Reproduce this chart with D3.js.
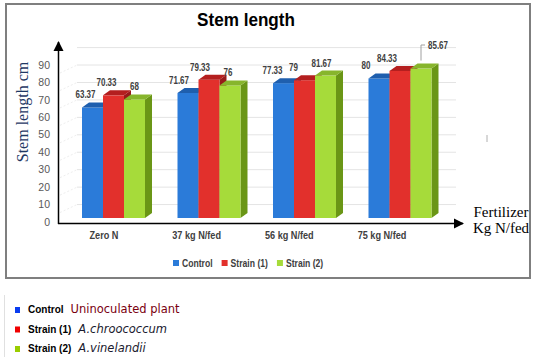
<!doctype html>
<html>
  <head>
    <script src="https://d3js.org/d3.v7.min.js"></script>
    <style>
      body { margin: 0; background: white; }
      text { font-family: "Liberation Sans", Arial, sans-serif; }
      .serif { font-family: "Liberation Serif", "Times New Roman", serif; }
      .wide { font-family: "DejaVu Sans", sans-serif; }
    </style>
  </head>
  <body>
    <div id="chart"></div>
    <script>
      // chart data
      var categories = ["Zero N", "37 kg N/fed", "56 kg N/fed", "75 kg N/fed"];
      var seriesNames = ["Control", "Strain (1)", "Strain (2)"];
      var control = [63.37, 71.67, 77.33, 80];
      var strain1 = [70.33, 79.33, 79, 84.33];
      var strain2 = [68, 76, 81.67, 85.67];
      var labels = [["63.37", "71.67", "77.33", "80"],
                    ["70.33", "79.33", "79", "84.33"],
                    ["68", "76", "81.67", "85.67"]];
      var yTicks = [0, 10, 20, 30, 40, 50, 60, 70, 80, 90];
      var notes = ["Uninoculated plant", "A.chroococcum", "A.vinelandii"];

      var values = [control, strain1, strain2];

      var width = 538, height = 364;

      // front colour, top colour, side colour per series
      var fronts = ["#2b7bd9", "#e2302c", "#a6db3a"];
      var tops = ["#1f5fae", "#b41f1f", "#87b52c"];
      var sides = ["#1a4f90", "#981a1a", "#6a9616"];
      var keyColors = ["#0a3cf0", "#f00000", "#9acd00"];
      var noteColors = ["#7a0010", "#1a1a2e", "#1a1a2e"];

      // the original text is narrow, so squeeze a text element sideways
      function squeeze(sel, k) {
        sel.each(function() {
          var n = this;
          n.setAttribute("textLength", n.getComputedTextLength() * k);
          n.setAttribute("lengthAdjust", "spacingAndGlyphs");
        });
      }

      var svg = d3.select("#chart").append("svg")
        .attr("width", width)
        .attr("height", height);

      // outer frame of the chart
      svg.append("rect")
        .attr("x", 6).attr("y", 4)
        .attr("width", 524).attr("height", 274)
        .attr("fill", "white")
        .attr("stroke", "#7f7f7f")
        .attr("stroke-width", 2);

      // scales: tick labels / back wall, and bar front plane
      var yTick = d3.scaleLinear().domain([0, 100]).range([222, 47.6]);
      var yBar = d3.scaleLinear().domain([0, 100]).range([218, 43.6]);
      var x = d3.scaleBand().domain(categories).range([60, 442]);
      var xInner = d3.scaleBand().domain(seriesNames).range([22, 85]);
      var xLabel = d3.scalePoint().domain(categories).range([104, 382]);
      var depthX = 7, depthY = 5;

      // back wall gridlines
      var grid = svg.append("g");
      grid.selectAll("line.h")
        .data(yTicks.concat([100]).slice(1))
        .enter().append("line")
        .attr("x1", 77).attr("x2", 456)
        .attr("y1", function(d) { return yTick(d); })
        .attr("y2", function(d) { return yTick(d); })
        .attr("stroke", "#e4e4e4");
      grid.selectAll("line.d")
        .data(yTicks.slice(1))
        .enter().append("line")
        .attr("x1", 60).attr("x2", 77)
        .attr("y1", function(d) { return yTick(d) + 8; })
        .attr("y2", function(d) { return yTick(d); })
        .attr("stroke", "#eeeeee")
        .attr("stroke-dasharray", "2,2");

      // y tick labels
      svg.append("g").selectAll("text")
        .data(yTicks)
        .enter().append("text")
        .attr("x", 50)
        .attr("y", function(d) { return yTick(d); })
        .attr("dy", "0.35em")
        .attr("text-anchor", "end")
        .attr("font-size", 10.5)
        .attr("fill", "#595959")
        .text(function(d) { return d; });

      // 3d bars
      var bars = svg.append("g");
      categories.forEach(function(c, i) {
        seriesNames.forEach(function(s, k) {
          var v = values[k][i];
          var x0 = x(c) + xInner(s), w = xInner.bandwidth();
          var y0 = yBar(v), yb = yBar(0);
          bars.append("path")
            .attr("d", "M" + (x0 + w) + "," + y0 + "l" + depthX + "," + (-depthY) +
                  "L" + (x0 + w + depthX) + "," + (yb - depthY) + "L" + (x0 + w) + "," + yb + "Z")
            .attr("fill", sides[k]);
          bars.append("rect")
            .attr("x", x0).attr("y", y0)
            .attr("width", w).attr("height", yb - y0)
            .attr("fill", fronts[k]);
          bars.append("path")
            .attr("d", "M" + x0 + "," + y0 + "l" + depthX + "," + (-depthY) +
                  "h" + w + "l" + (-depthX) + "," + depthY + "Z")
            .attr("fill", tops[k]);
        });
      });

      // value labels, moved out with a leader when they hit the wall top
      var vlab = svg.append("g");
      categories.forEach(function(c, i) {
        seriesNames.forEach(function(s, k) {
          var v = values[k][i];
          var cx = x(c) + xInner(s) + xInner.bandwidth() / 2;
          var base = yBar(v) - 9;
          if (base - 8 < yTick(100) + 5) {
            vlab.append("path")
              .attr("d", "M" + cx + "," + (yBar(v) - 8) + "V45h4")
              .attr("fill", "none")
              .attr("stroke", "#a0a0a0");
            vlab.append("text")
              .attr("x", cx + 7).attr("y", 48.5)
              .attr("font-size", 10.5).attr("font-weight", "bold")
              .attr("fill", "#404040")
              .text(labels[k][i]);
          } else {
            vlab.append("text")
              .attr("x", cx - (k < 2 ? 7 : 0) - i * 2).attr("y", base)
              .attr("text-anchor", "middle")
              .attr("font-size", 10.5).attr("font-weight", "bold")
              .attr("fill", "#404040")
              .text(labels[k][i]);
          }
        });
      });
      squeeze(vlab.selectAll("text"), 0.76);

      // axes with arrow heads
      svg.append("defs").append("marker")
        .attr("id", "arrow")
        .attr("viewBox", "0 0 10 10")
        .attr("refX", 9).attr("refY", 5)
        .attr("markerWidth", 7).attr("markerHeight", 7)
        .attr("orient", "auto")
        .append("path").attr("d", "M0,0L10,5L0,10Z").attr("fill", "black");
      svg.append("path")
        .attr("d", "M58.5,224V42")
        .attr("stroke", "black").attr("stroke-width", 1.5)
        .attr("marker-end", "url(#arrow)");
      svg.append("path")
        .attr("d", "M58,223.5H463")
        .attr("stroke", "black").attr("stroke-width", 1.5)
        .attr("marker-end", "url(#arrow)");

      // category labels
      var cats = svg.append("g").selectAll("text")
        .data(categories)
        .enter().append("text")
        .attr("x", function(d) { return xLabel(d); })
        .attr("y", 239)
        .attr("text-anchor", "middle")
        .attr("font-size", 10.5).attr("font-weight", "bold")
        .attr("fill", "#404040")
        .text(function(d) { return d; });
      squeeze(cats, 0.87);

      // titles
      svg.append("text")
        .attr("x", 246).attr("y", 26)
        .attr("text-anchor", "middle")
        .attr("font-size", 19).attr("font-weight", "bold")
        .attr("fill", "#000")
        .text("Stem length")
        .call(squeeze, 0.9);
      svg.append("text")
        .attr("class", "serif")
        .attr("transform", "translate(28,112) rotate(-90)")
        .attr("text-anchor", "middle")
        .attr("font-size", 16)
        .attr("fill", "#1f3864")
        .text("Stem length cm");
      svg.append("text")
        .attr("class", "serif")
        .attr("x", 501).attr("y", 217)
        .attr("text-anchor", "middle")
        .attr("font-size", 15)
        .text("Fertilizer");
      svg.append("text")
        .attr("class", "serif")
        .attr("x", 501).attr("y", 233)
        .attr("text-anchor", "middle")
        .attr("font-size", 15)
        .text("Kg N/fed");
      svg.append("line")
        .attr("x1", 487).attr("x2", 487).attr("y1", 135).attr("y2", 142)
        .attr("stroke", "#b0b0b0");

      // legend inside the chart
      var lx = 173;
      seriesNames.forEach(function(s, k) {
        svg.append("rect")
          .attr("x", lx).attr("y", 260)
          .attr("width", 6).attr("height", 6)
          .attr("fill", fronts[k]);
        var t = svg.append("text")
          .attr("x", lx + 9).attr("y", 266.5)
          .attr("font-size", 10.5).attr("font-weight", "bold")
          .attr("fill", "#404040")
          .text(s)
          .call(squeeze, 0.82);
        lx += 9 + t.node().getComputedTextLength() + 9;
      });

      // key below the chart
      svg.append("line")
        .attr("x1", 4.5).attr("x2", 4.5).attr("y1", 295).attr("y2", 357)
        .attr("stroke", "#e0e0e0");
      seriesNames.forEach(function(s, k) {
        var ry = 313 + k * 19.5;
        svg.append("rect")
          .attr("x", 15).attr("y", ry - 6)
          .attr("width", 5).attr("height", 6)
          .attr("fill", keyColors[k]);
        var t = svg.append("text")
          .attr("x", 28).attr("y", ry)
          .attr("font-size", 10).attr("font-weight", "bold")
          .attr("fill", "#000")
          .text(s);
        svg.append("text")
          .attr("class", "wide")
          .attr("x", 28 + t.node().getComputedTextLength() + 7).attr("y", ry)
          .attr("font-size", 11.5)
          .attr("font-style", k > 0 ? "italic" : "normal")
          .attr("fill", noteColors[k])
          .text(notes[k]);
      });
    </script>
  </body>
</html>
